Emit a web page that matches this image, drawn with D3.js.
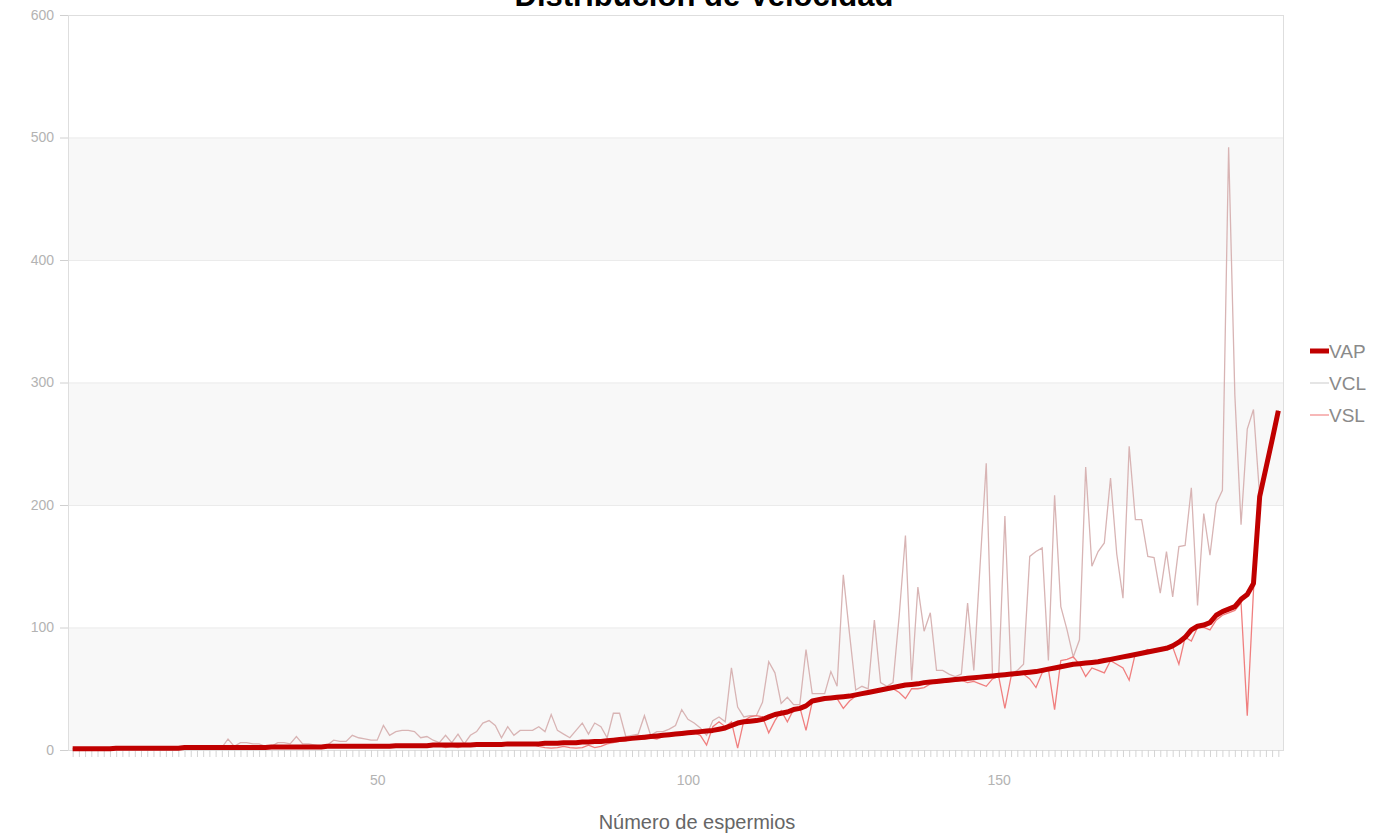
<!DOCTYPE html>
<html>
<head>
<meta charset="utf-8">
<title>Distribución de Velocidad</title>
<script src="https://d3js.org/d3.v7.min.js"></script>
<style>
  body { margin: 0; background: #fff; font-family: 'Liberation Sans', Arial, sans-serif; }
</style>
</head>
<body>
<svg id="chart"></svg>
<script>
// values, one per sperm (sorted by VAP)
var vap = [
  1,1,1,1,1,1,1,1.5,1.5,1.5,
  1.5,1.5,1.5,1.5,1.5,1.5,1.5,1.5,2,2,
  2,2,2,2,2,2,2,2,2,2,
  2,2,2.5,2.5,2.5,2.5,2.5,2.5,2.5,2.5,
  2.5,3,3,3,3,3,3,3,3,3,
  3,3,3.5,3.5,3.5,3.5,3.5,3.5,4,4,
  4,4,4,4,4,4.5,4.5,4.5,4.5,4.5,
  5,5,5,5,5,5,5.5,5.5,5.5,6,
  6,6,6.5,6.5,7,7,7.5,8,8.5,9,
  9.5,10,10.5,11,11.5,12,12.5,13,13.5,14,
  14.5,15,15.5,16,17,18,20,22,23,23.5,
  24,25,27,29,30,31,33,34,36,40,
  41,42,42.5,43,43.5,44,45,46,47,48,
  49,50,51,52,53,53.5,54,55,55.5,56,
  56.5,57,57.5,58,58.5,59,59.5,60,60.5,61,
  61.5,62,62.5,63,63.5,64,65,66,67,68,
  69,70,70.5,71,71.5,72,73,74,75,76,
  77,78,79,80,81,82,83,85,88,92,
  98,101,102,104,110,113,115,117,123,127,
  136,207,230,253,277
];
var vcl = [
  1,1,1,1,1,1,1,1.5,1.5,1.5,
  1.5,1.5,1.5,1.5,1.5,1.5,1.5,1.5,2,2,
  2,2,2,2,2,9,3,6,6,5,
  5,3,3,6,6,5,11,5,5,4,
  3,4,8,7,7,12,10,9,8,8,
  20,12,15,16,16,15,10,11,8,6,
  12,6,13,5,12,15,22,24,20,10,
  19,12,16,16,16,19,15,29,16,13,
  10,16,22,13,22,19,10,30,30,11,
  12,13,28,12,15,15,17,20,33,25,
  22,18,12,24,27,23,67,35,27,28,
  28,39,72,63,38,43,37,37,82,46,
  46,46,64,52,143,95,49,52,50,106,
  55,52,55,110,175,57,133,97,112,65,
  65,62,60,62,120,65,150,234,62,60,
  191,62,65,70,158,162,165,73,208,117,
  98,76,90,231,150,162,169,222,160,124,
  248,188,188,158,157,128,162,125,166,167,
  214,118,193,159,201,212,492,290,184,262,
  278,207,230,253,277
];
var vsl = [
  1,1,1,1,1,1,1,1,1,1,
  1.5,1.5,1.5,1.5,1.5,1.5,1.5,1.5,1.5,2,
  2,2,2,2,2,2,1.5,2,2,1.5,
  2,2,2,2.5,2,2,2,2.5,2,2,
  2.5,2.5,2.5,3,2.5,2.5,3,2.5,3,3,
  3,2.5,3,3,3,3,3.5,3,3.5,3.5,
  2,3,2,3.5,4,4,4,3.5,4,4,
  4.5,4.5,4.5,4,4.5,3,2,1.5,2,3,
  2,1.5,2,4,2,3,5,6,7,7.5,
  9,10,9,10,9,11,12,12,12.5,13,
  14,12,4,19,23,19,23,1.5,24,27,
  28,27,14,24,32,23,33,35,16,39,
  41,42,43,42,34,40,44,46,47,47,
  48,49,50,47,42,50,50,51,54,55,
  55,56,56,57,55,56,54,52,58,60,
  34,60,62,62,58,51,63,66,33,73,
  74,76,70,60,67,65,63,73,70,67,
  57,79,80,82,80,81,82,84,70,92,
  89,100,100,98,106,110,112,114,120,28,
  130,207,230,253,277
];
var seriesNames = ["VAP", "VCL", "VSL"];
var yTicks = [0, 100, 200, 300, 400, 500, 600];
var xTickLabels = [50, 100, 150];

var width = 1391, height = 834;
var plotLeft = 68, plotRight = 1283, plotTop = 15, plotBottom = 750;

var svg = d3.select('#chart')
    .attr('width', width)
    .attr('height', height);

var n = vap.length;
var x = d3.scaleLinear().domain([0.25, n + 0.75]).range([plotLeft, plotRight]);
var y = d3.scaleLinear().domain([0, 600]).range([plotBottom, plotTop]);

// alternating bands
svg.selectAll('rect.band')
    .data(yTicks.slice(0, -1).filter(function(d, i) { return i % 2 == 0; }))
    .enter()
    .append('rect')
    .attr('class', 'band')
    .attr('x', plotLeft)
    .attr('width', plotRight - plotLeft)
    .attr('y', function(d) { return y(d + 100); })
    .attr('height', function(d) { return y(d) - y(d + 100); })
    .attr('fill', '#f8f8f8');

svg.selectAll('line.grid')
    .data(yTicks)
    .enter()
    .append('line')
    .attr('class', 'grid')
    .attr('x1', plotLeft).attr('x2', plotRight)
    .attr('y1', function(d) { return y(d) + 0.5; })
    .attr('y2', function(d) { return y(d) + 0.5; })
    .attr('stroke', '#ebebeb');

svg.append('rect')
    .attr('x', plotLeft + 0.5).attr('y', plotTop + 0.5)
    .attr('width', plotRight - plotLeft).attr('height', plotBottom - plotTop)
    .attr('fill', 'none')
    .attr('stroke', '#dedede');

// y axis
var yAxis = svg.append('g')
    .attr('transform', 'translate(' + plotLeft + ',0)')
    .call(d3.axisLeft(y).tickValues(yTicks).tickSize(8).tickPadding(6));
yAxis.select('.domain').remove();
yAxis.selectAll('line').attr('stroke', '#d0d0d0');
yAxis.selectAll('text').attr('fill', '#b3b3b3').style('font-size', '14px')
    .style('font-family', "'Liberation Sans', Arial, sans-serif");

// x axis: a small tick per point, labels only every 50
var xMinor = svg.append('g')
    .attr('transform', 'translate(0,' + plotBottom + ')')
    .call(d3.axisBottom(x).tickValues(d3.range(1, n + 1)).tickSize(7).tickFormat(''));
xMinor.select('.domain').remove();
xMinor.selectAll('line').attr('stroke', '#d4d4d4');

var xAxis = svg.append('g')
    .attr('transform', 'translate(0,' + plotBottom + ')')
    .call(d3.axisBottom(x).tickValues(xTickLabels).tickSize(0).tickPadding(25));
xAxis.select('.domain').remove();
xAxis.selectAll('text').attr('fill', '#b3b3b3').style('font-size', '14px')
    .style('font-family', "'Liberation Sans', Arial, sans-serif");

// lines
var line = d3.line()
    .x(function(d, i) { return x(i + 1); })
    .y(function(d) { return y(d); });

svg.append('path').datum(vcl)
    .attr('d', line)
    .attr('fill', 'none')
    .attr('stroke', '#d8b4b4')
    .attr('stroke-width', 1.3);

svg.append('path').datum(vsl)
    .attr('d', line)
    .attr('fill', 'none')
    .attr('stroke', '#f07f7f')
    .attr('stroke-width', 1.3);

svg.append('path').datum(vap)
    .attr('d', line)
    .attr('fill', 'none')
    .attr('stroke', '#c00000')
    .attr('stroke-width', 5)
    .attr('stroke-linejoin', 'round');

// legend
var legendColors = ['#c00000', '#dcdcdc', '#f4a0a0'];
var legendWidths = [5, 1.5, 1.5];
var legend = svg.selectAll('g.legend')
    .data(seriesNames)
    .enter()
    .append('g')
    .attr('class', 'legend')
    .attr('transform', function(d, i) { return 'translate(1310,' + (351 + i * 32) + ')'; });
legend.append('line')
    .attr('x1', 0).attr('x2', 19)
    .attr('stroke', function(d, i) { return legendColors[i]; })
    .attr('stroke-width', function(d, i) { return legendWidths[i]; });
legend.append('text')
    .attr('x', 19)
    .attr('dy', '0.35em')
    .attr('fill', '#8a8a8a')
    .style('font-size', '19px')
    .text(function(d) { return d; });

// titles
svg.append('text')
    .attr('x', 704).attr('y', 6)
    .attr('text-anchor', 'middle')
    .style('font-size', '31px')
    .style('font-weight', 'bold')
    .attr('fill', '#000')
    .text('Distribución de Velocidad');

svg.append('text')
    .attr('x', 697).attr('y', 829)
    .attr('text-anchor', 'middle')
    .style('font-size', '20px')
    .attr('fill', '#666')
    .text('Número de espermios');
</script>
</body>
</html>
